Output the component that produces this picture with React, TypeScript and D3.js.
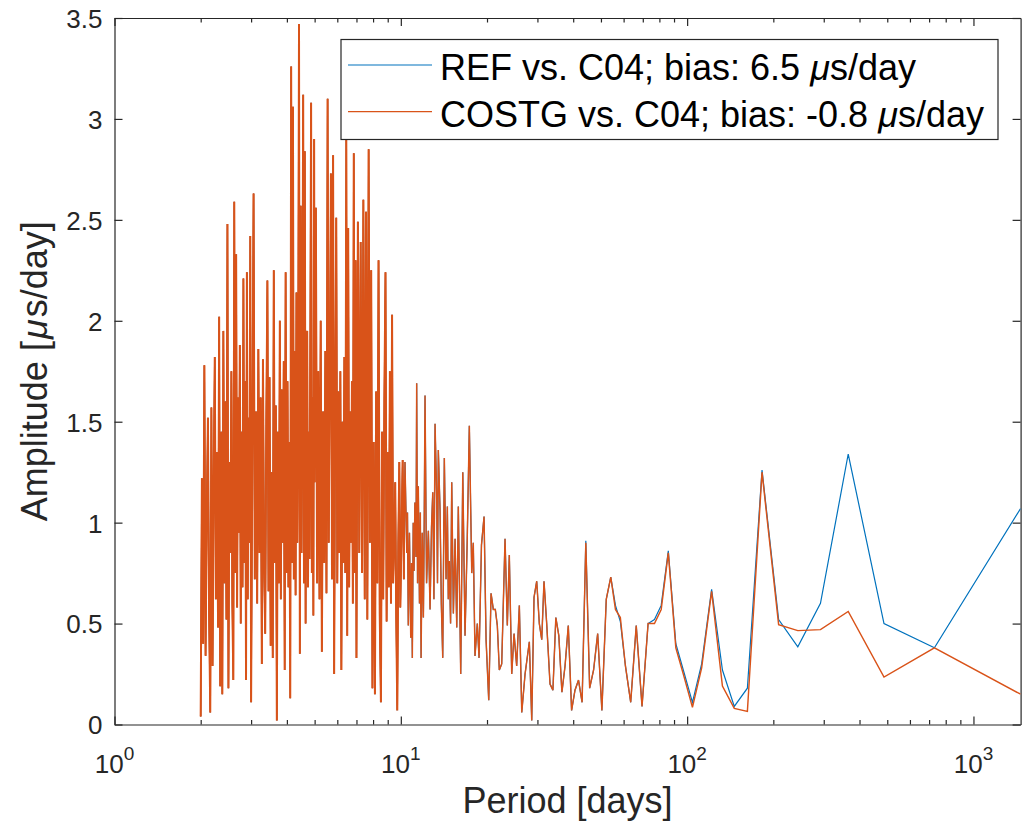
import React, { useRef, useEffect } from 'react';
import * as d3 from 'd3';

// Short periods (2 to 34 days). REF and COSTG coincide here, so one list serves both.
const shortPeriods = [
  2.00, 2.02, 2.04, 2.06, 2.08, 2.10, 2.12, 2.14, 2.16, 2.18,
  2.20, 2.22, 2.24, 2.26, 2.28, 2.30, 2.32, 2.34, 2.36, 2.38,
  2.40, 2.42, 2.44, 2.46, 2.48, 2.50, 2.52, 2.54, 2.56, 2.58,
  2.60, 2.62, 2.64, 2.66, 2.68, 2.70, 2.72, 2.74, 2.76, 2.78,
  2.80, 2.82, 2.84, 2.86, 2.88, 2.90, 2.92, 2.94, 2.96, 2.98,
  3.00, 3.03, 3.06, 3.09, 3.12, 3.15, 3.18, 3.21, 3.24, 3.27,
  3.30, 3.33, 3.36, 3.39, 3.42, 3.45, 3.48, 3.51, 3.54, 3.57,
  3.60, 3.63, 3.66, 3.69, 3.72, 3.75, 3.78, 3.81, 3.84, 3.87,
  3.90, 3.93, 3.96, 3.99, 4.02, 4.05, 4.08, 4.11, 4.14, 4.17,
  4.20, 4.23, 4.26, 4.29, 4.32, 4.35, 4.38, 4.41, 4.44, 4.47,
  4.50, 4.53, 4.56, 4.59, 4.62, 4.65, 4.68, 4.71, 4.74, 4.77,
  4.80, 4.83, 4.86, 4.89, 4.92, 4.95, 4.98,
  5.00, 5.05, 5.10, 5.15, 5.20, 5.25, 5.30, 5.35, 5.40, 5.45,
  5.50, 5.55, 5.60, 5.65, 5.70, 5.75, 5.80, 5.85, 5.90, 5.95,
  6.00, 6.05, 6.10, 6.15, 6.20, 6.25, 6.30, 6.35, 6.40, 6.45,
  6.50, 6.55, 6.60, 6.65, 6.70, 6.75, 6.80, 6.85, 6.90, 6.95,
  7.00, 7.08, 7.16, 7.24, 7.32, 7.40, 7.48, 7.56, 7.64, 7.72,
  7.80, 7.88, 7.96, 8.04, 8.12, 8.20, 8.28, 8.36, 8.44, 8.52,
  8.60, 8.68, 8.76, 8.84, 8.92, 9.00, 9.08, 9.16, 9.24, 9.32,
  9.40, 9.48, 9.56, 9.64, 9.72, 9.80, 9.88, 9.96,
  10.15, 10.25, 10.34, 10.49, 10.55, 10.62, 10.72, 10.83, 10.90, 10.97,
  11.05, 11.12, 11.20, 11.30, 11.36, 11.44, 11.51, 11.62, 11.70, 11.77,
  11.88, 11.99, 12.07, 12.15, 12.30, 12.48, 12.65, 12.80, 12.93, 13.05,
  13.17, 13.35, 13.43, 13.52, 13.71, 13.85, 14.01, 14.19, 14.39, 14.54,
  14.65, 14.77, 14.92, 15.06, 15.26, 15.47, 15.68, 15.88, 16.19, 16.46,
  16.76, 17.05, 17.35, 17.69, 17.91, 18.16, 18.50, 18.76, 19.13, 19.53,
  19.85, 20.28, 20.66, 21.04, 21.38, 21.73, 22.08, 22.51, 23.12, 23.55,
  23.93, 24.40, 24.86, 25.39, 25.94, 26.45, 27.16, 28.11, 28.66, 29.19,
  29.83, 30.46, 31.06, 31.63, 32.32, 33.20, 33.98,
];

const shortAmp = [
  0.04, 1.22, 0.40, 1.78, 0.34, 1.05, 1.52, 0.55, 0.06, 1.57,
  0.29, 1.20, 1.82, 0.62, 1.35, 0.48, 2.02, 0.19, 1.45, 0.15,
  1.95, 0.70, 1.60, 0.52, 2.48, 0.18, 1.30, 0.85, 1.75, 0.60,
  0.22, 2.59, 0.75, 2.33, 0.58, 1.62, 0.95, 1.88, 0.50, 1.45,
  0.68, 2.21, 0.80, 1.70, 0.22, 2.24, 0.62, 1.52, 0.90, 2.42,
  0.11, 1.40, 2.63, 0.72, 1.55, 0.60, 1.86, 0.85, 1.62, 0.30,
  1.81, 0.78, 0.45, 1.50, 2.20, 0.66, 1.72, 0.39, 1.25, 0.33,
  2.25, 0.80, 1.58, 0.02, 1.45, 0.70, 2.00, 0.62, 1.66, 0.90,
  1.80, 0.27, 2.24, 0.75, 1.70, 0.68, 1.40, 0.13, 3.26, 0.80,
  3.06, 0.72, 1.85, 0.64, 2.14, 0.90, 1.65, 3.47, 0.35, 2.57,
  0.85, 1.78, 3.12, 0.70, 2.84, 0.50, 1.60, 1.95, 0.68, 1.45,
  0.82, 1.90, 3.08, 0.75, 1.62, 0.54, 2.90,
  1.20, 2.56, 0.70, 1.75, 0.62, 2.00, 0.36, 1.55, 0.80, 1.85,
  0.65, 3.10, 0.90, 1.70, 2.73, 0.72, 2.82, 0.25, 1.60, 2.51,
  0.70, 1.65, 0.85, 1.75, 0.27, 1.50, 0.80, 1.82, 0.75, 2.90,
  0.44, 2.46, 0.68, 1.55, 0.90, 1.70, 0.60, 2.83, 0.75, 2.30,
  0.33, 2.49, 0.85, 2.39, 0.75, 2.60, 0.62, 2.54, 0.52, 2.85,
  0.90, 2.25, 0.18, 1.40, 0.15, 1.65, 0.70, 2.30, 0.55, 0.11,
  1.45, 0.62, 1.60, 2.24, 0.51, 1.35, 0.68, 1.75, 0.60, 2.03,
  0.70, 0.90, 1.20, 0.52, 0.07, 0.90, 1.30, 0.58,
  1.31, 0.72, 1.30, 0.85, 1.05, 0.49, 0.95, 0.43, 0.80, 0.33,
  1.00, 0.76, 1.10, 0.83, 1.69, 0.70, 1.18, 0.60, 1.05, 0.33,
  0.95, 0.53, 1.00, 1.63, 0.70, 0.96, 0.57, 0.98, 1.15, 0.62,
  1.49, 1.11, 0.70, 1.36, 1.06, 0.60, 0.33, 1.32, 0.72, 1.08,
  0.62, 0.81, 0.50, 1.20, 0.55, 0.92, 0.48, 1.08, 0.25, 1.25,
  0.44, 0.90, 1.48, 0.75, 0.90, 0.34, 0.50, 0.33, 0.89, 1.03,
  0.42, 0.12, 0.65, 0.57, 0.57, 0.49, 0.27, 0.30, 0.92, 0.49,
  0.84, 0.25, 0.45, 0.29, 0.59, 0.06, 0.25, 0.41, 0.02, 0.63,
  0.71, 0.50, 0.42, 0.71, 0.50, 0.20, 0.17,
];

// Longer periods (harmonics of the 4-year record), where the two solutions part ways
const longPeriods = [
  34.79, 35.63, 36.53, 37.46, 38.45, 39.49, 40.58, 41.74, 42.97, 44.27,
  45.66, 47.13, 48.70, 50.38, 52.18, 54.11, 56.19, 58.44, 60.88, 63.52,
  66.41, 69.57, 73.05, 76.89, 81.17, 85.94, 91.31, 97.40, 104.36, 112.38,
  121.75, 132.82, 146.10, 162.33, 182.63, 208.71, 243.50, 292.20, 365.25, 487.00,
  730.50, 1461,
];
const refLongAmp = [
  0.53, 0.44, 0.16, 0.29, 0.49, 0.07, 0.17, 0.22, 0.11, 0.91,
  0.18, 0.27, 0.45, 0.07, 0.62, 0.73, 0.59, 0.51, 0.29, 0.11,
  0.49, 0.09, 0.50, 0.52, 0.59, 0.86, 0.40, 0.26, 0.11, 0.30,
  0.67, 0.27, 0.09, 0.18, 1.26, 0.52, 0.385, 0.60, 1.34, 0.50,
  0.38, 1.07,
];
const costgLongAmp = [
  0.53, 0.44, 0.16, 0.29, 0.49, 0.07, 0.17, 0.22, 0.11, 0.90,
  0.18, 0.27, 0.45, 0.07, 0.62, 0.73, 0.57, 0.53, 0.29, 0.11,
  0.49, 0.09, 0.50, 0.50, 0.57, 0.85, 0.38, 0.24, 0.085, 0.28,
  0.66, 0.19, 0.08, 0.065, 1.25, 0.495, 0.465, 0.47, 0.56, 0.235,
  0.38, 0.15,
];

const yTickValues = [0, 0.5, 1, 1.5, 2, 2.5, 3, 3.5];
const xMajorTicks = [1, 10, 100, 1000];
const xTickExponents = ['0', '1', '2', '3'];
const xMinorTicks = [2, 3, 4, 5, 6, 7, 8, 9, 20, 30, 40, 50, 60, 70, 80, 90, 200, 300, 400, 500, 600, 700, 800, 900];
const legendLabels = ['REF vs. C04; bias: 6.5 ', 'COSTG vs. C04; bias: -0.8 '];

const App = () => {
  const ref = useRef<SVGSVGElement>(null);

  useEffect(() => {
    const svg = d3.select(ref.current);
    svg.selectAll('*').remove();

    const W = 1033, H = 829;
    const left = 114.5, right = 1020.6, top = 18, bottom = 724.5;
    const font = '"Liberation Sans", Arial, Helvetica, sans-serif';
    const axisColor = '#262626';
    const colors = ['#0072BD', '#D95319'];

    const x = d3.scaleLog().domain([1, 1461]).range([left, right]);
    const y = d3.scaleLinear().domain([0, 3.5]).range([bottom, top]);

    svg.append('rect').attr('width', W).attr('height', H).attr('fill', '#fff');

    svg.append('defs').append('clipPath').attr('id', 'plot-clip')
      .append('rect')
      .attr('x', left).attr('y', top)
      .attr('width', right - left).attr('height', bottom - top);

    // axes, MATLAB style: box on, ticks pointing inwards
    const styleAxis = (g) => {
      g.selectAll('path.domain').attr('stroke', axisColor).attr('stroke-width', 1.2);
      g.selectAll('.tick line').attr('stroke', axisColor).attr('stroke-width', 1.2);
      g.selectAll('.tick text').attr('fill', axisColor);
      g.attr('font-family', font);
    };

    const xAxes = [
      { make: d3.axisBottom, pos: bottom },
      { make: d3.axisTop, pos: top },
    ];
    xAxes.forEach(({ make, pos }) => {
      svg.append('g')
        .attr('transform', `translate(0,${pos})`)
        .call(make(x).tickValues(xMajorTicks).tickSize(-8).tickSizeOuter(0).tickFormat(() => ''))
        .call(styleAxis);
      svg.append('g')
        .attr('transform', `translate(0,${pos})`)
        .call(make(x).tickValues(xMinorTicks).tickSize(-4.5).tickSizeOuter(0).tickFormat(() => ''))
        .call(styleAxis)
        .call(g => g.select('path.domain').remove());
    });

    svg.append('g')
      .attr('transform', `translate(${left},0)`)
      .call(d3.axisLeft(y).tickValues(yTickValues).tickSize(-8).tickSizeOuter(0)
        .tickPadding(12).tickFormat(d => String(d)))
      .call(styleAxis)
      .call(g => g.selectAll('.tick text').attr('font-size', 26).attr('dy', '0.36em'));

    svg.append('g')
      .attr('transform', `translate(${right},0)`)
      .call(d3.axisRight(y).tickValues(yTickValues).tickSize(-8).tickSizeOuter(0).tickFormat(() => ''))
      .call(styleAxis);

    // 10^n labels under the log axis
    xMajorTicks.forEach((v, i) => {
      const t = svg.append('text')
        .attr('x', x(v)).attr('y', 773)
        .attr('text-anchor', 'middle')
        .attr('font-family', font).attr('font-size', 26)
        .attr('fill', axisColor);
      t.append('tspan').text('10');
      t.append('tspan').attr('dy', -13).attr('font-size', 19).text(xTickExponents[i]);
    });

    svg.append('text')
      .attr('x', (left + right) / 2).attr('y', 813)
      .attr('text-anchor', 'middle')
      .attr('font-family', font).attr('font-size', 36)
      .attr('fill', axisColor)
      .text('Period [days]');

    const yLabel = svg.append('text')
      .attr('transform', `translate(47,${(top + bottom) / 2}) rotate(-90)`)
      .attr('text-anchor', 'middle')
      .attr('font-family', font).attr('font-size', 36)
      .attr('fill', axisColor);
    yLabel.append('tspan').text('Amplitude [');
    yLabel.append('tspan').attr('font-style', 'italic').attr('dx', 2).text('μ');
    yLabel.append('tspan').attr('dx', 2).text('s/day]');

    // the two spectra
    const periods = shortPeriods.concat(longPeriods);
    const series = [shortAmp.concat(refLongAmp), shortAmp.concat(costgLongAmp)];
    const line = d3.line<number>()
      .x((_, i) => x(periods[i]))
      .y(d => y(d));

    const plot = svg.append('g').attr('clip-path', 'url(#plot-clip)');
    series.forEach((amps, i) => {
      plot.append('path')
        .datum(amps)
        .attr('fill', 'none')
        .attr('stroke', colors[i])
        .attr('stroke-width', i === 0 ? 1.2 : 1.45)
        .attr('d', line);
    });

    // the densely sampled short-period band: overlapping strokes read as a solid mass
    const denseCount = shortPeriods.findIndex(p => p > 10.2);
    plot.append('path')
      .datum(shortAmp.slice(0, denseCount + 1))
      .attr('fill', 'none')
      .attr('stroke', colors[1])
      .attr('stroke-width', 2)
      .attr('d', line);

    // legend
    const lg = svg.append('g');
    lg.append('rect')
      .attr('x', 341).attr('y', 39.5).attr('width', 657).attr('height', 100)
      .attr('fill', '#fff').attr('stroke', axisColor).attr('stroke-width', 1.2);
    legendLabels.forEach((label, i) => {
      const cy = 65 + i * 46.7;
      lg.append('line')
        .attr('x1', 348).attr('x2', 432).attr('y1', cy).attr('y2', cy)
        .attr('stroke', colors[i]).attr('stroke-width', 1.2);
      const t = lg.append('text')
        .attr('x', 440).attr('y', cy + 15)
        .attr('font-family', font).attr('font-size', 36).attr('fill', '#000');
      t.append('tspan').text(label);
      t.append('tspan').attr('font-style', 'italic').text('μ');
      t.append('tspan').text('s/day');
    });
  }, []);

  return (
    <svg
      ref={ref}
      width={1033}
      height={829}
      style={{ position: 'absolute', left: 0, top: 0, display: 'block' }}
    />
  );
};

export default App;
